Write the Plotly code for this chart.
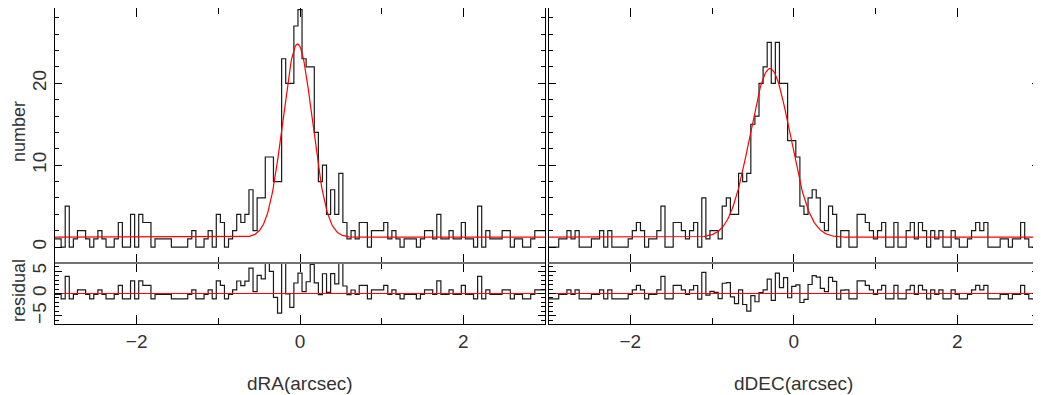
import numpy as np
import plotly.graph_objects as go

# bin centres (arcsec), 0.05 wide, -3 ... 3
bin_centres = np.round(np.arange(-3.0, 3.0001, 0.05), 2)

# counts per bin
ra_counts = [
    1, 1, 0, 5, 0, 1, 2, 2, 1, 0, 1, 2, 1, 0, 0, 1, 3, 0, 0, 4,
    0, 4, 3, 3, 0, 1, 1, 1, 1, 0, 0, 0, 0, 1, 2, 0, 0, 1, 2, 0,
    4, 3, 0, 1, 2, 4, 3, 4, 7, 2, 6, 6, 11, 11, 8, 8, 23, 20, 20, 27,
    29, 23, 22, 22, 14, 8, 10, 4, 7, 4, 9, 3, 1, 2, 1, 3, 3, 0, 2, 2,
    2, 3, 1, 2, 1, 0, 1, 1, 1, 0, 1, 2, 2, 1, 4, 1, 1, 2, 1, 1,
    3, 1, 1, 0, 5, 0, 2, 1, 1, 1, 2, 2, 0, 1, 1, 0, 0, 1, 2, 2,
    2,
]
dec_counts = [
    0, 0, 0, 1, 1, 2, 1, 2, 0, 0, 0, 1, 1, 2, 0, 2, 0, 0, 0, 0,
    1, 2, 3, 2, 0, 1, 1, 2, 5, 0, 0, 3, 3, 2, 1, 2, 3, 0, 6, 1,
    2, 2, 1, 5, 6, 4, 4, 9, 8, 9, 15, 16, 20, 22, 25, 20, 25, 20, 20, 13,
    13, 11, 5, 4, 6, 7, 6, 3, 2, 5, 4, 0, 2, 2, 0, 0, 4, 4, 3, 2,
    1, 2, 3, 0, 0, 3, 0, 0, 2, 3, 1, 3, 2, 0, 2, 1, 2, 0, 0, 2,
    1, 0, 0, 1, 2, 3, 2, 3, 0, 0, 0, 1, 1, 0, 1, 1, 3, 1, 0, 0,
    0,
]

# gaussian fit parameters: baseline, amplitude, centre, sigma
ra_fit = (1.2, 23.6, -0.03, 0.18)
dec_fit = (1.2, 20.6, -0.29, 0.245)

# the page puts the figure 8px in from the top-left corner
OFF = 8
W, H = 1041 - OFF, 395 - OFF
FONT = "Liberation Sans, Arial, sans-serif"
TXT = "#333333"


def xp(px):
    return (px - OFF) / W


def yp(py):
    return (H - (py - OFF)) / H


def model(x, p):
    base, amp, mu, sig = p
    return base + amp * np.exp(-0.5 * ((x - mu) / sig) ** 2)


fig = go.Figure()
x_fine = np.linspace(-3, 3, 601)
panels = [(ra_counts, ra_fit, "", "2"), (dec_counts, dec_fit, "3", "4")]
for counts, fit, top, bot in panels:
    counts = np.array(counts, dtype=float)
    fig.add_trace(go.Scatter(
        x=bin_centres, y=counts, mode="lines", line_shape="hvh",
        line=dict(color="#1a1a1a", width=1.2),
        xaxis="x" + top, yaxis="y" + top))
    fig.add_trace(go.Scatter(
        x=bin_centres, y=counts - model(bin_centres, fit), mode="lines",
        line_shape="hvh", line=dict(color="#1a1a1a", width=1.2),
        xaxis="x" + bot, yaxis="y" + bot))
    fig.add_trace(go.Scatter(
        x=x_fine, y=model(x_fine, fit), mode="lines",
        line=dict(color="#ff0000", width=1.2),
        xaxis="x" + top, yaxis="y" + top))
    fig.add_trace(go.Scatter(
        x=[-3, 3], y=[0, 0], mode="lines",
        line=dict(color="#ff0000", width=1.2),
        xaxis="x" + bot, yaxis="y" + bot))

left_dom = [xp(55), xp(545)]
right_dom = [xp(548.5), xp(1039)]
top_dom = [yp(263), yp(OFF)]
res_dom = [yp(324), yp(263)]

common = dict(showline=True, linecolor="black", linewidth=1, mirror="ticks",
              ticks="inside", showgrid=False, zeroline=False,
              tickcolor="black",
              tickfont=dict(family=FONT, size=19, color=TXT))


def xax(dom, anchor, labels):
    return dict(common, domain=dom, anchor=anchor, range=[-3, 3],
                tick0=0, dtick=2, ticklen=9, showticklabels=labels,
                minor=dict(dtick=1, ticklen=6, ticks="inside",
                           tickcolor="black"))


def yax(dom, anchor, rng, dtick, mdtick, labels):
    return dict(common, domain=dom, anchor=anchor, range=rng,
                tick0=0, dtick=dtick, ticklen=7, tickangle=-90,
                showticklabels=labels,
                minor=dict(dtick=mdtick, ticklen=4, ticks="inside",
                           tickcolor="black"))


fig.update_layout(
    width=W, height=H,
    margin=dict(l=0, r=0, t=0, b=0),
    paper_bgcolor="white", plot_bgcolor="white",
    showlegend=False,
    xaxis=xax(left_dom, "y", False),
    yaxis=yax(top_dom, "x", [-1.95, 29.2], 10, 2, True),
    xaxis2=xax(left_dom, "y2", True),
    yaxis2=yax(res_dom, "x2", [-6.8, 6.8], 5, 1, True),
    xaxis3=xax(right_dom, "y3", False),
    yaxis3=yax(top_dom, "x3", [-1.95, 29.2], 10, 2, False),
    xaxis4=xax(right_dom, "y4", True),
    yaxis4=yax(res_dom, "x4", [-6.8, 6.8], 5, 1, False),
)

# grey separator between histogram and residual panels
for dom in (left_dom, right_dom):
    fig.add_shape(type="line", xref="paper", yref="paper",
                  x0=dom[0], x1=dom[1], y0=res_dom[1], y1=res_dom[1],
                  line=dict(color="#999999", width=1.5), layer="above")

labels = [
    ("number", 19, 132, -90, 18),
    ("residual", 19, 291, -90, 18),
    ("dRA(arcsec)", 300, 383, 0, 19),
    ("dDEC(arcsec)", 793, 383, 0, 19),
]
for text, px, py, ang, size in labels:
    fig.add_annotation(text=text, x=xp(px), y=yp(py),
                       xref="paper", yref="paper", showarrow=False,
                       textangle=ang, xanchor="center", yanchor="middle",
                       font=dict(family=FONT, size=size, color=TXT))

fig.write_html("out.html")
